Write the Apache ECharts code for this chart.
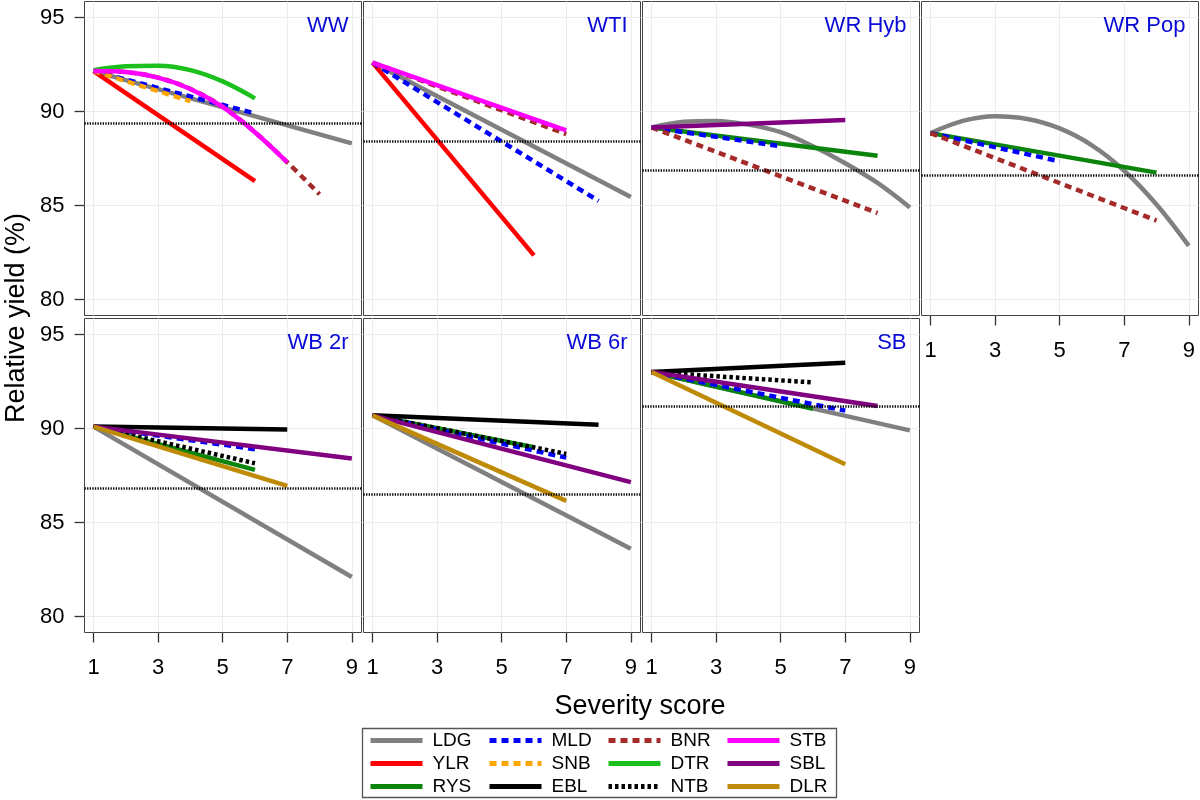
<!DOCTYPE html>
<html lang="en">
<head>
<meta charset="UTF-8">
<title>Relative yield vs severity score</title>
<script src="https://cdn.jsdelivr.net/npm/echarts@6/dist/echarts.min.js"></script>
<style>
    html, body { margin: 0; padding: 0; background: #fff; }
    #chart { width: 1200px; height: 800px; }
</style>
</head>
<body>
<div id="chart"></div>
<script>
    // ---- data: [severity score, relative yield %] ----
    var panelNames = ['WW', 'WTI', 'WR Hyb', 'WR Pop', 'WB 2r', 'WB 6r', 'SB'];
    var refLevels = [89.4, 88.4, 86.9, 86.6, 86.8, 86.5, 91.2];
    var xTicks = [1, 3, 5, 7, 9];
    var yTicks = [80, 85, 90, 95];

    // WW
    var WW_LDG = [[1, 92.15], [9, 88.3]];
    var WW_YLR = [[1, 92.15], [6, 86.3]];
    var WW_MLD = [[1, 92.15], [6, 89.9]];
    var WW_SNB = [[1, 92.15], [4, 90.55]];
    var WW_BNR = [[1, 92.15], [2, 92.1], [3, 91.8], [4, 91.2], [5, 90.25], [6, 88.9], [7, 87.3], [8, 85.6]];
    var WW_DTR = [[1, 92.2], [2, 92.4], [3, 92.43], [4, 92.2], [5, 91.6], [6, 90.7]];
    var WW_STB = [[1, 92.15], [2, 92.1], [3, 91.8], [4, 91.2], [5, 90.25], [6, 88.9], [7, 87.3]];
    // WTI
    var WTI_LDG = [[1, 92.6], [9, 85.45]];
    var WTI_YLR = [[1, 92.6], [6, 82.35]];
    var WTI_MLD = [[1, 92.6], [8, 85.25]];
    var WTI_BNR = [[1, 92.6], [7, 88.8]];
    var WTI_STB = [[1, 92.6], [7, 89.0]];
    // WR Hyb
    var WRH_LDG = [[1, 89.15], [2, 89.45], [3, 89.5], [4, 89.3], [5, 88.9], [6, 88.15], [7, 87.25], [8, 86.2], [9, 84.9]];
    var WRH_RYS = [[1, 89.15], [8, 87.65]];
    var WRH_MLD = [[1, 89.15], [5, 88.15]];
    var WRH_BNR = [[1, 89.15], [8, 84.6]];
    var WRH_SBL = [[1, 89.15], [7, 89.55]];
    // WR Pop
    var WRP_LDG = [[1, 88.85], [2, 89.5], [3, 89.75], [4, 89.6], [5, 89.1], [6, 88.2], [7, 86.85], [8, 85.05], [9, 82.85]];
    var WRP_RYS = [[1, 88.85], [8, 86.75]];
    var WRP_MLD = [[1, 88.85], [5, 87.35]];
    var WRP_BNR = [[1, 88.85], [8, 84.2]];
    // WB 2r
    var WB2_LDG = [[1, 90.1], [9, 82.1]];
    var WB2_RYS = [[1, 90.1], [6, 87.8]];
    var WB2_MLD = [[1, 90.1], [6, 88.9]];
    var WB2_EBL = [[1, 90.1], [7, 89.95]];
    var WB2_NTB = [[1, 90.1], [6, 88.15]];
    var WB2_SBL = [[1, 90.1], [9, 88.4]];
    var WB2_DLR = [[1, 90.1], [7, 86.95]];
    // WB 6r
    var WB6_LDG = [[1, 90.7], [9, 83.6]];
    var WB6_RYS = [[1, 90.7], [6, 89.0]];
    var WB6_MLD = [[1, 90.7], [7, 88.45]];
    var WB6_EBL = [[1, 90.7], [8, 90.2]];
    var WB6_NTB = [[1, 90.7], [7, 88.65]];
    var WB6_SBL = [[1, 90.7], [9, 87.15]];
    var WB6_DLR = [[1, 90.7], [7, 86.15]];
    // SB
    var SB_LDG = [[1, 93.0], [9, 89.9]];
    var SB_RYS = [[1, 93.0], [6, 91.05]];
    var SB_MLD = [[1, 93.0], [7, 90.95]];
    var SB_EBL = [[1, 93.0], [7, 93.5]];
    var SB_NTB = [[1, 93.0], [6, 92.45]];
    var SB_SBL = [[1, 93.0], [8, 91.2]];
    var SB_DLR = [[1, 93.0], [7, 88.1]];

    var panelCurves = [
        {LDG: WW_LDG, YLR: WW_YLR, MLD: WW_MLD, SNB: WW_SNB, BNR: WW_BNR, DTR: WW_DTR, STB: WW_STB},
        {LDG: WTI_LDG, YLR: WTI_YLR, MLD: WTI_MLD, BNR: WTI_BNR, STB: WTI_STB},
        {LDG: WRH_LDG, RYS: WRH_RYS, MLD: WRH_MLD, BNR: WRH_BNR, SBL: WRH_SBL},
        {LDG: WRP_LDG, RYS: WRP_RYS, MLD: WRP_MLD, BNR: WRP_BNR},
        {LDG: WB2_LDG, RYS: WB2_RYS, MLD: WB2_MLD, EBL: WB2_EBL, NTB: WB2_NTB, SBL: WB2_SBL, DLR: WB2_DLR},
        {LDG: WB6_LDG, RYS: WB6_RYS, MLD: WB6_MLD, EBL: WB6_EBL, NTB: WB6_NTB, SBL: WB6_SBL, DLR: WB6_DLR},
        {LDG: SB_LDG, RYS: SB_RYS, MLD: SB_MLD, EBL: SB_EBL, NTB: SB_NTB, SBL: SB_SBL, DLR: SB_DLR}
    ];

    // ---- styles ----
    var drawOrder = ['LDG', 'YLR', 'RYS', 'MLD', 'SNB', 'EBL', 'BNR', 'DTR', 'NTB', 'STB', 'SBL', 'DLR'];
    var lineColors = {
        LDG: '#808080', YLR: '#ff0000', RYS: '#0b840b', MLD: '#0000ff', SNB: '#ffa500', EBL: '#000000',
        BNR: '#a52a2a', DTR: '#1cc01c', NTB: '#000000', STB: '#ff00ff', SBL: '#800080', DLR: '#bf8a06'
    };
    var lineTypes = {MLD: [7, 5], SNB: [7, 5], BNR: [7, 5], NTB: [3.5, 3]};
    var font = '"Liberation Sans", Arial, sans-serif';

    // half-pixel offsets keep the 1px panel frames crisp
    var panelLeft = [84.5, 363.5, 642.5, 921.5, 84.5, 363.5, 642.5];
    var panelTop = [1.5, 1.5, 1.5, 1.5, 318.5, 318.5, 318.5];
    var panelW = 277, panelH = 314;

    var myChart = echarts.init(document.getElementById('chart'));

    var grids = [], xAxes = [], yAxes = [], series = [], graphics = [];
    for (var i = 0; i < panelNames.length; i++) {
        var showX = i >= 3;
        var showY = (i === 0 || i === 4);
        grids.push({
            left: panelLeft[i], top: panelTop[i], width: panelW, height: panelH,
            show: true, borderColor: '#444', borderWidth: 1, backgroundColor: '#fff'
        });
        xAxes.push({
            type: 'value', gridIndex: i, min: 0.72, max: 9.3,
            axisLine: {show: false},
            axisTick: {show: showX, customValues: xTicks, length: 10, lineStyle: {color: '#333', width: 1.3}},
            axisLabel: {show: showX, customValues: xTicks, fontSize: 22, color: '#000', fontFamily: font, margin: 24},
            splitLine: {show: true, lineStyle: {color: '#ececec', width: 1}}
        });
        yAxes.push({
            type: 'value', gridIndex: i, min: 79.15, max: 95.85,
            axisLine: {show: false},
            axisTick: {show: showY, customValues: yTicks, length: 10, lineStyle: {color: '#333', width: 1.3}},
            axisLabel: {show: showY, customValues: yTicks, fontSize: 22, color: '#000', fontFamily: font, margin: 20},
            splitLine: {show: true, lineStyle: {color: '#ececec', width: 1}}
        });
        // horizontal dotted reference level
        series.push({
            name: 'ref' + i, type: 'line', xAxisIndex: i, yAxisIndex: i, data: [],
            markLine: {
                silent: true, symbol: ['none', 'none'], label: {show: false},
                lineStyle: {color: '#000', type: [1.3, 1.3], width: 2.5},
                emphasis: {disabled: true},
                data: [{yAxis: refLevels[i]}]
            }
        });
        for (var k = 0; k < drawOrder.length; k++) {
            var d = drawOrder[k];
            var pts = panelCurves[i][d];
            if (!pts) continue;
            series.push({
                name: d, type: 'line', xAxisIndex: i, yAxisIndex: i,
                data: pts, symbol: 'none', smooth: pts.length > 2 ? 0.35 : false,
                lineStyle: {color: lineColors[d], width: 4.5, type: lineTypes[d] || 'solid', cap: 'butt'},
                itemStyle: {color: lineColors[d]},
                emphasis: {disabled: true}
            });
        }
        graphics.push({
            type: 'text', z: 100, x: panelLeft[i] + panelW - 13, y: panelTop[i] + 24,
            style: {text: panelNames[i], fill: '#0a0ad6', fontSize: 22, fontFamily: font, align: 'right', verticalAlign: 'middle'}
        });
    }

    graphics.push({
        type: 'text', z: 100, x: 17, y: 318, rotation: Math.PI / 2,
        style: {text: 'Relative yield (%)', fill: '#000', fontSize: 27, fontFamily: font, align: 'center', verticalAlign: 'middle'}
    });
    graphics.push({
        type: 'text', z: 100, x: 640, y: 707,
        style: {text: 'Severity score', fill: '#000', fontSize: 27, fontFamily: font, align: 'center', verticalAlign: 'middle'}
    });
    graphics.push({
        type: 'rect', z: 100, shape: {x: 362.5, y: 728.5, width: 474, height: 69},
        style: {fill: 'none', stroke: '#555', lineWidth: 1.3}
    });

    var legendCols = [['LDG', 'YLR', 'RYS'], ['MLD', 'SNB', 'EBL'], ['BNR', 'DTR', 'NTB'], ['STB', 'SBL', 'DLR']];
    var legendLeft = [368, 487, 606, 725];
    var legends = [];
    for (var c = 0; c < legendCols.length; c++) {
        legends.push({
            orient: 'vertical', left: legendLeft[c], top: 731, padding: 0,
            itemWidth: 52, itemHeight: 14, itemGap: 4,
            selectedMode: false, data: legendCols[c],
            itemStyle: {opacity: 0},
            lineStyle: {width: 5},
            textStyle: {fontSize: 19, color: '#000', fontFamily: font, padding: [0, 0, 0, 5]}
        });
    }

    var option = {
        animation: false,
        backgroundColor: '#fff',
        grid: grids,
        xAxis: xAxes,
        yAxis: yAxes,
        legend: legends,
        graphic: graphics,
        series: series
    };
    myChart.setOption(option);
</script>
</body>
</html>
